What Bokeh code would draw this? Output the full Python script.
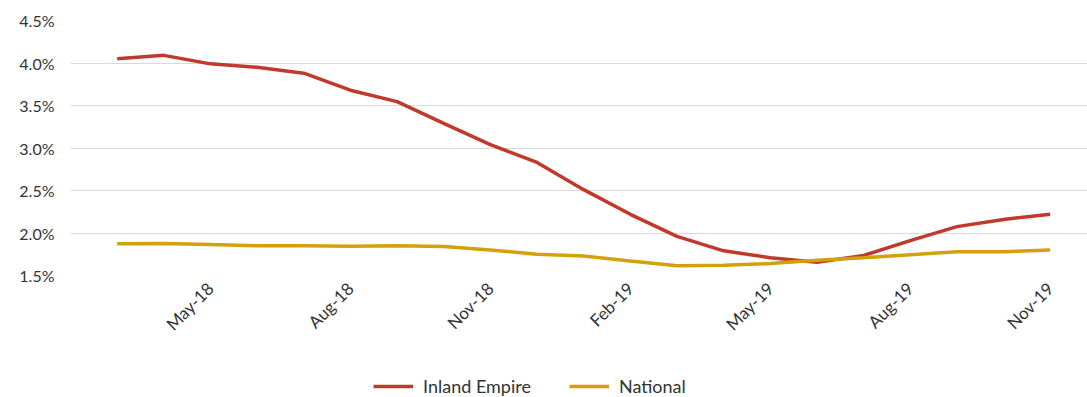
from bokeh.plotting import figure
from bokeh.layouts import column
from bokeh.models import Range1d, FixedTicker, PrintfTickFormatter, Legend, LegendItem
from bokeh.embed import file_html
from bokeh.resources import INLINE
import math

months = ["Mar-18", "Apr-18", "May-18", "Jun-18", "Jul-18", "Aug-18", "Sep-18", "Oct-18",
          "Nov-18", "Dec-18", "Jan-19", "Feb-19", "Mar-19", "Apr-19", "May-19", "Jun-19",
          "Jul-19", "Aug-19", "Sep-19", "Oct-19", "Nov-19"]
inland_empire = [4.05, 4.09, 3.99, 3.95, 3.88, 3.68, 3.545, 3.29, 3.04, 2.83, 2.51, 2.22,
                 1.96, 1.79, 1.71, 1.655, 1.735, 1.91, 2.075, 2.16, 2.22]
national = [1.873, 1.876, 1.865, 1.85, 1.85, 1.845, 1.85, 1.84, 1.80, 1.75, 1.73, 1.67,
            1.615, 1.62, 1.64, 1.68, 1.71, 1.745, 1.78, 1.778, 1.80]
y_ticks = [1.5, 2.0, 2.5, 3.0, 3.5, 4.0, 4.5]
x_tick_idx = [2, 5, 8, 11, 14, 17, 20]
series_names = ["Inland Empire", "National"]
series_colors = ["#c0392b", "#d4a00c"]

xs = list(range(len(months)))

FONT = "Lato"
TXT = "#333333"

p = figure(width=1087, height=355, output_backend="svg", toolbar_location=None,
           x_range=Range1d(-1.0, 20.8), y_range=Range1d(1.5, 4.5),
           min_border_left=70, min_border_right=0, min_border_top=20, min_border_bottom=80)
p.outline_line_color = None
p.background_fill_color = "white"
p.border_fill_color = "white"

p.line(xs, inland_empire, line_color=series_colors[0], line_width=3.5)
p.line(xs, national, line_color=series_colors[1], line_width=3.5)

p.xgrid.grid_line_color = None
p.ygrid.grid_line_color = "#d9d9d9"
p.ygrid.grid_line_width = 1
p.yaxis.ticker = FixedTicker(ticks=y_ticks)
p.yaxis.formatter = PrintfTickFormatter(format="%.1f%%")
p.xaxis.ticker = FixedTicker(ticks=x_tick_idx)
p.xaxis.major_label_overrides = {i: months[i] for i in x_tick_idx}
p.xaxis.major_label_orientation = math.pi / 4

for ax in (p.xaxis[0], p.yaxis[0]):
    ax.axis_line_color = None
    ax.major_tick_line_color = None
    ax.minor_tick_line_color = None
    ax.major_tick_out = 0
    ax.major_tick_in = 0
    ax.major_label_text_font = FONT
    ax.major_label_text_color = TXT
p.yaxis.major_label_text_font_size = "16px"
p.xaxis.major_label_text_font_size = "17px"
p.yaxis.major_label_standoff = 16
p.xaxis.major_label_standoff = 10

# legend strip below the chart (series drawn outside its visible range, only the legend shows)
p2 = figure(width=1087, height=42, output_backend="svg", toolbar_location=None,
            x_range=Range1d(-1.0, 20.8), y_range=Range1d(10, 11),
            x_axis_location=None, y_axis_location=None,
            min_border_left=70, min_border_right=0, min_border_top=0, min_border_bottom=0)
p2.outline_line_color = None
p2.xgrid.grid_line_color = None
p2.ygrid.grid_line_color = None
lr = [p2.line(xs, vals, line_color=c, line_width=3.5)
      for vals, c in zip([inland_empire, national], series_colors)]

legend = Legend(items=[LegendItem(label=n, renderers=[r]) for n, r in zip(series_names, lr)],
                orientation="horizontal", location=(303, 0),
                glyph_width=40, glyph_height=20, label_standoff=10, spacing=38,
                padding=0, margin=0, border_line_color=None, background_fill_alpha=0,
                label_text_font=FONT, label_text_font_size="18px", label_text_color=TXT)
p2.add_layout(legend, "center")

layout = column(p, p2, spacing=0)
open("out.html", "w").write(file_html(layout, INLINE))
